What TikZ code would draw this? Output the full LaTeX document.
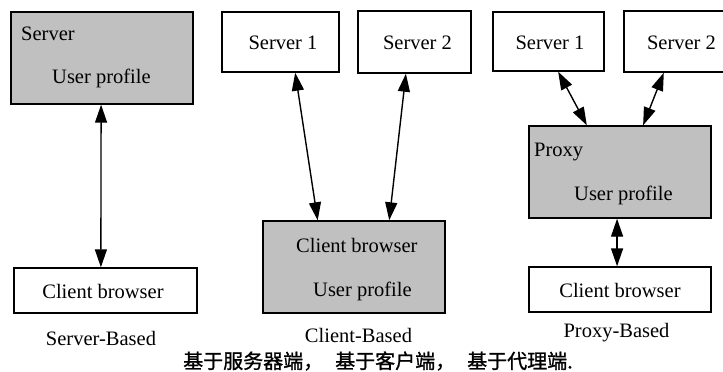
\documentclass[tikz,border=0pt]{standalone}
\usepackage{fontspec}
\setmainfont{Liberation Serif}
\newfontfamily\cjk[FakeBold=1.2]{Noto Sans CJK SC}
\usetikzlibrary{arrows.meta,calc}
\tikzset{
  box/.style={draw=black,line width=1.4pt,rectangle,inner sep=0pt,minimum width=#1},
  graybox/.style={box=#1,fill=boxgray},
  txt/.style={inner sep=0pt,font=\fontsize{20.5}{24}\selectfont},
  link/.style={line width=1.4pt,{Triangle[length=18pt,width=12pt]}-{Triangle[length=18pt,width=12pt]}},
}
\definecolor{boxgray}{RGB}{192,192,192}
\begin{document}
\begin{tikzpicture}[x=1pt,y=-1pt]
\useasboundingbox (0,0) rectangle (723,372);
\clip (0,0) rectangle (723,372);
\fill[white] (0,0) rectangle (723,372);
% Server-based
\node[graybox=182pt,minimum height=92pt] (srv) at (102,58) {};
\node[txt,anchor=base west] (srvt) at (21,40) {Server};
\node[txt,anchor=base west] (srvu) at (52,83) {User profile};
\node[box=183pt,minimum height=45pt] (cl1) at (105.5,290.5) {};
\node[txt] (cl1t) at (103,291) {Client browser};
\node[txt] (lab1) at (101,338) {Server-Based};
% Client-based
\node[box=117pt,minimum height=60pt] (m1) at (280.5,42) {};
\node[txt] (m1t) at (283,43) {Server 1};
\node[box=113pt,minimum height=62pt] (m2) at (414.5,42) {};
\node[txt] (m2t) at (417.5,43) {Server 2};
\node[graybox=182pt,minimum height=92pt] (mc) at (354,267) {};
\node[txt,anchor=base west] (mct) at (296,252) {Client browser};
\node[txt,anchor=base west] (mcu) at (313,296) {User profile};
\node[txt] (lab2) at (358.5,335) {Client-Based};
% Proxy-based
\node[box=111pt,minimum height=59pt] (r1) at (548.5,41.5) {};
\node[txt] (r1t) at (550,43) {Server 1};
\node[box=116pt,minimum height=61pt] (r2) at (682,41.5) {};
\node[txt] (r2t) at (681.5,43) {Server 2};
\node[graybox=182pt,minimum height=92pt] (px) at (620,172) {};
\node[txt,anchor=base west] (pxt) at (534,156) {Proxy};
\node[txt,anchor=base west] (pxu) at (574,200) {User profile};
\node[box=182pt,minimum height=45pt] (cl3) at (620,289.5) {};
\node[txt] (cl3t) at (620,290) {Client browser};
\node[txt] (lab3) at (616.5,333) {Proxy-Based};
% caption
\node[inner sep=0pt,anchor=west,font=\cjk\fontsize{20}{24}\selectfont] (cap) at (183,361) {基于服务器端，\hspace{12pt}基于客户端，\hspace{12pt}基于代理端.};
% connectors
\draw[link] ($(srv.south west)!0.495!(srv.south east)$) -- ($(cl1.north west)!0.475!(cl1.north east)$);
\draw[link] ($(m1.south west)!0.624!(m1.south east)$) -- ($(mc.north west)!0.302!(mc.north east)$);
\draw[link] ($(m2.south west)!0.425!(m2.south east)$) -- ($(mc.north west)!0.692!(mc.north east)$);
\draw[link] ($(r1.south west)!0.586!(r1.south east)$) -- ($(px.north west)!0.319!(px.north east)$);
\draw[link] ($(r2.south west)!0.345!(r2.south east)$) -- ($(px.north west)!0.626!(px.north east)$);
\draw[link] ($(px.south west)!0.484!(px.south east)$) -- ($(cl3.north west)!0.484!(cl3.north east)$);
\end{tikzpicture}
\end{document}
